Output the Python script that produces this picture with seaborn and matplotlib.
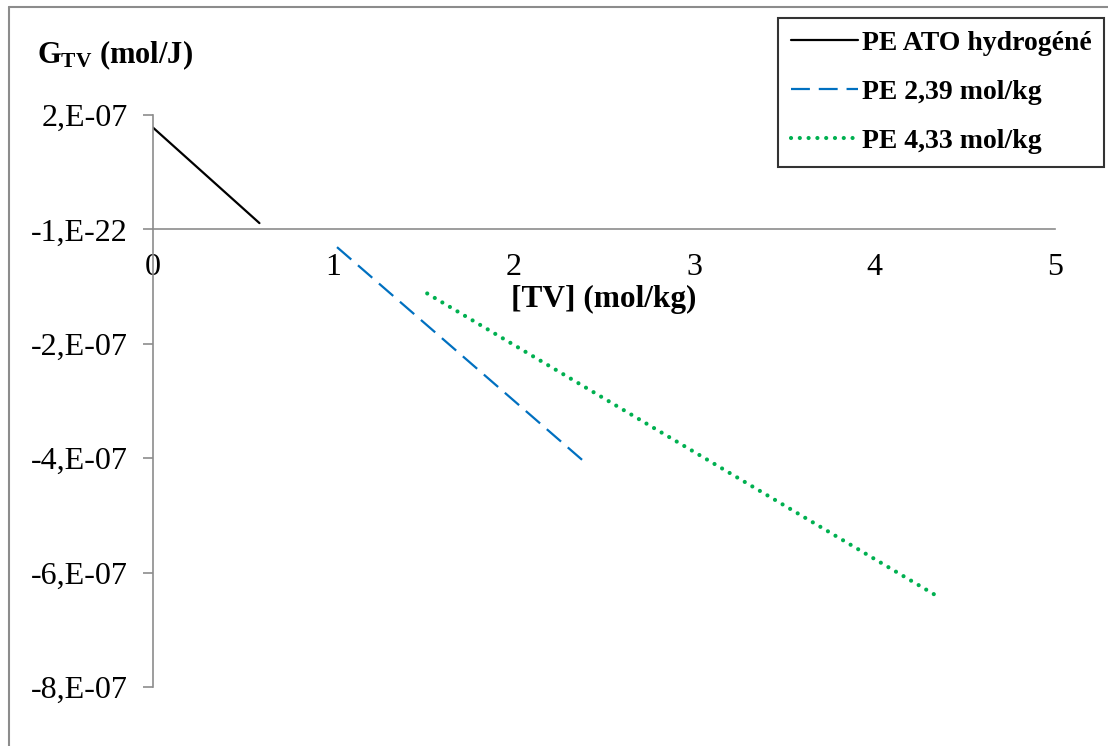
import matplotlib
matplotlib.use("Agg")
import matplotlib.pyplot as plt
import seaborn as sns
import pandas as pd
from matplotlib.lines import Line2D

# series (straight lines, end points only)
ato_x = [0.0, 0.59]
ato_y = [1.78e-07, 1.1e-08]
pe239_x = [1.02, 2.39]
pe239_y = [-3.1e-08, -4.06e-07]
pe433_x = [1.52, 4.33]
pe433_y = [-1.12e-07, -6.38e-07]

series_names = ["PE ATO hydrogéné", "PE 2,39 mol/kg", "PE 4,33 mol/kg"]
x_ticks = [0, 1, 2, 3, 4, 5]
y_ticks = [2e-07, 0, -2e-07, -4e-07, -6e-07, -8e-07]
y_tick_labels = ["2,E-07", "-1,E-22", "-2,E-07", "-4,E-07", "-6,E-07", "-8,E-07"]

sns.set_style("white")
plt.rcParams["font.family"] = ["Liberation Serif", "DejaVu Serif"]
plt.rcParams["text.color"] = "black"
plt.rcParams["xtick.labelcolor"] = "black"
plt.rcParams["ytick.labelcolor"] = "black"
plt.rcParams["mathtext.fontset"] = "custom"
plt.rcParams["mathtext.rm"] = "Liberation Serif"
plt.rcParams["mathtext.bf"] = "Liberation Serif:bold"
plt.rcParams["mathtext.it"] = "Liberation Serif:italic"

df = pd.concat([
    pd.DataFrame({"x": ato_x, "y": ato_y, "serie": series_names[0]}),
    pd.DataFrame({"x": pe239_x, "y": pe239_y, "serie": series_names[1]}),
    pd.DataFrame({"x": pe433_x, "y": pe433_y, "serie": series_names[2]}),
])

W, H = 1108, 746
fig = plt.figure(figsize=(W / 100, H / 100), dpi=100)
ax = fig.add_axes([153 / W, 1 - 687 / H, (1055 - 153) / W, (687 - 115) / H])

palette = {series_names[0]: "#000000", series_names[1]: "#0070C0", series_names[2]: "#00B050"}
sns.lineplot(data=df, x="x", y="y", hue="serie", palette=palette, ax=ax,
             legend=False, sort=False, estimator=None)

styles = [
    dict(lw=1.6, ls="-", cap="round"),
    dict(lw=1.6, ls=(0, (8.5, 4.0)), cap="butt"),
    dict(lw=3.0, ls=(0, (0.01, 2.1)), cap="round"),
]
for line, st in zip(ax.get_lines(), styles):
    line.set_linewidth(st["lw"])
    line.set_linestyle(st["ls"])
    line.set_dash_capstyle(st["cap"])

ax.set_xlim(0, 5)
ax.set_ylim(-8e-07, 2e-07)
ax.set_xticks(x_ticks)
ax.set_xticklabels([str(v) for v in x_ticks])
ax.set_yticks(y_ticks)
ax.set_yticklabels(y_tick_labels)

axis_col = "#8c8c8c"
for side in ["top", "right"]:
    ax.spines[side].set_visible(False)
ax.spines["bottom"].set_position(("data", 0))
for side in ["left", "bottom"]:
    ax.spines[side].set_color(axis_col)
    ax.spines[side].set_linewidth(1.2)
ax.tick_params(axis="x", direction="in", length=7, width=1.2, color=axis_col,
               labelsize=23, pad=17)
ax.tick_params(axis="y", direction="out", length=7, width=1.2, color=axis_col,
               labelsize=23, pad=11, left=True)
ax.set_xlabel("")
ax.set_ylabel("")
ax.grid(False)

fig.text(37 / W, 1 - 55 / H, r"$\mathbf{G}_{\mathbf{TV}}$ (mol/J)", fontsize=22,
         fontweight="bold", ha="left", va="center")
fig.text(604 / W, 1 - 299 / H, "[TV] (mol/kg)", fontsize=22.5, fontweight="bold",
         ha="center", va="center")

handles = [Line2D([0], [0], color=palette[n], lw=st["lw"], ls=st["ls"],
                  dash_capstyle=st["cap"])
           for n, st in zip(series_names, styles)]
leg = fig.legend(handles, series_names, loc="upper right",
                 bbox_to_anchor=(1104 / W, 1 - 18 / H), frameon=True, fancybox=False,
                 prop={"weight": "bold", "size": 20}, handlelength=2.4,
                 handletextpad=0.15, labelspacing=0.85, borderpad=0.45,
                 borderaxespad=0)
leg.get_frame().set_edgecolor("black")
leg.get_frame().set_linewidth(1.5)

# outer chart border (top and left visible in the reference)
fig.add_artist(Line2D([9 / W, 9 / W], [0, 1 - 7 / H], color=axis_col, lw=1.5))
fig.add_artist(Line2D([9 / W, 1], [1 - 7 / H, 1 - 7 / H], color=axis_col, lw=1.5))

fig.savefig("out.png", dpi=100)
